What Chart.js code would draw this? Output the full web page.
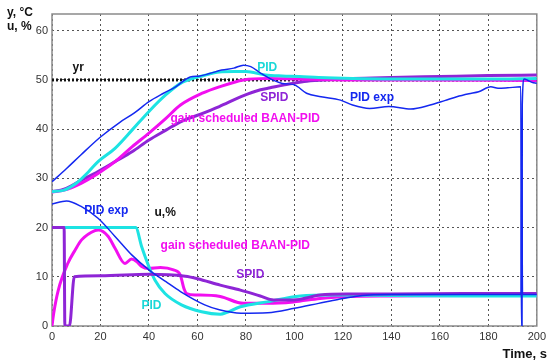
<!DOCTYPE html>
<html>
<head>
<meta charset="utf-8">
<script src="https://cdn.jsdelivr.net/npm/chart.js@4"></script>
<style>
  html, body { margin: 0; padding: 0; background: #fff; }
  canvas { display: block; }
</style>
</head>
<body>
<canvas id="chart" width="550" height="364"></canvas>
<script>
// --- data ---
// temperature y (upper curves)
const pidExpYT = [0, 6, 12, 20, 28, 34, 40, 46, 51, 57, 61, 65, 70, 75, 79, 82, 86, 91, 95, 100, 105, 111, 119, 124, 131, 139, 148, 156, 162, 167, 172, 176, 181, 184, 188, 193.4, 193.6, 193.9, 194.0, 194.8, 196, 198, 200];
const pidExpY  = [29.3, 32, 34.8, 38.4, 41.4, 43.3, 45.6, 47.3, 48.6, 50.6, 50.8, 51.3, 52, 52.4, 53, 52.7, 51.4, 50, 49.3, 49, 47.3, 46.6, 45.9, 44.9, 44.2, 44.6, 44.1, 44.9, 45.8, 46.6, 47.2, 47.6, 48.6, 48.3, 48.4, 48.6, 0, 0, 45, 50.2, 50, 49.5, 49.3];

const pidYT = [0, 5, 10, 15, 19, 26, 33, 40, 47, 53, 58, 62, 69, 75, 80, 88, 95, 102, 110, 124, 140, 160, 180, 200];
const pidY  = [27.3, 27.6, 29, 31.3, 33.4, 36.1, 39.8, 43.6, 47, 49.3, 50.3, 50.8, 51.6, 51.7, 51.7, 51, 50.8, 50.7, 50.5, 50.3, 50.2, 50.2, 50.2, 50.3];

const baanYT = [0, 5, 12, 19, 26, 33, 40, 47, 53, 62, 69, 79, 89, 100, 120, 150, 200];
const baanY  = [27.2, 27.6, 29, 31, 33.4, 36.4, 39.2, 42.2, 44.9, 47.3, 48.6, 50, 50.3, 50.2, 50, 50, 49.9];

const spidYT = [0, 5, 12, 19, 26, 33, 40, 47, 53, 61, 69, 78, 86, 90, 96, 104, 112, 124, 140, 160, 180, 200];
const spidY  = [27.3, 27.8, 29.6, 31.4, 33.4, 35.4, 37.8, 39.8, 41.5, 43, 44.6, 46.6, 48, 48.4, 49, 49.7, 50, 50.3, 50.5, 50.7, 50.9, 51];

const yrT = [0, 200];
const yrV = [50, 50];

// control signal u (lower curves)
const pidExpUT = [0, 6, 12, 19, 26, 33, 40, 47, 53, 63, 69, 78, 89, 100, 110, 118, 125, 131, 140, 160, 180, 193.5, 193.8, 194.1, 194.5, 200];
const pidExpU  = [24.8, 25.4, 24.3, 21.9, 18.2, 14.4, 11.4, 9, 7, 4.3, 3.3, 2.6, 2.7, 3.6, 4.6, 5.4, 6, 6.3, 6.4, 6.4, 6.4, 6.4, 32, 6.4, 6.4, 6.4];

const pidUT = [0, 34.5, 37, 39.7, 42.5, 46.6, 53.4, 61.7, 69.4, 77.7, 88.7, 102.4, 116, 140, 170, 200];
const pidU  = [20, 20, 16.1, 12.4, 9.3, 6.6, 4.3, 2.9, 2.4, 3.9, 4.9, 6.1, 6.3, 6.2, 6.1, 6.1];

const baanUT = [0, 0.7, 2.6, 6.5, 9.5, 12.2, 17.7, 19.1, 23.2, 26, 30.1, 32.8, 34.9, 37, 39.7, 44.7, 50.1, 52.9, 54.5, 55.5, 59, 61.2, 69.4, 79, 88.7, 99.6, 110.6, 121.7, 140, 170, 200];
const baanU  = [0, 2.6, 7.3, 12.7, 15.4, 17.5, 19.4, 19.5, 18.2, 15.8, 12.7, 13.6, 13.1, 12.1, 11.7, 11.9, 11.4, 10.4, 7.5, 6.6, 6.3, 6.3, 6, 4.6, 4.6, 4.9, 5.6, 6, 6.1, 6.2, 6.2];

const spidUT = [0, 5, 5.3, 7.2, 9.2, 20, 40, 55, 60, 69.4, 77.7, 85.9, 91.4, 99.6, 110.6, 121.7, 140, 170, 200];
const spidU  = [20, 20, 0, 0, 10, 10.2, 10.5, 10.1, 9.6, 8.3, 7.3, 6.1, 5.3, 5.3, 6.3, 6.5, 6.5, 6.6, 6.6];

const xTicks = [0, 20, 40, 60, 80, 100, 120, 140, 160, 180, 200];
const yTicks = [0, 10, 20, 30, 40, 50, 60];

// in-plot labels: text, t, value, colour
const labels = [
  ["yr", 10.8, 52.4, "#111"],
  ["PID", 88.8, 52.4, "#1ad8d8"],
  ["SPID", 91.7, 46.3, "#8e25d6"],
  ["PID exp", 132, 46.3, "#1428f0"],
  ["gain scheduled BAAN-PID", 79.7, 42.1, "#f20ff0"],
  ["PID exp", 22.4, 23.4, "#1428f0"],
  ["u,%", 46.7, 23, "#111"],
  ["gain scheduled BAAN-PID", 75.6, 16.3, "#f20ff0"],
  ["SPID", 81.8, 10.4, "#8e25d6"],
  ["PID", 41, 4.1, "#1ad8d8"]
];

const BLUE = "#1428f0", CYAN = "#1de3e3", MAGENTA = "#f20ff0", PURPLE = "#8e25d6";
const pts = (t, v) => t.map((x, i) => ({ x: x, y: v[i] }));

function line(data, color, width, extra) {
  return Object.assign({
    data: data,
    borderColor: color,
    borderWidth: width,
    pointRadius: 0,
    showLine: true,
    fill: false,
    cubicInterpolationMode: "monotone"
  }, extra || {});
}

// frame + texts
const decor = {
  id: "decor",
  beforeDatasetsDraw(chart) {
    const { ctx, chartArea: a } = chart;
    ctx.save();
    ctx.strokeStyle = "#8a8a8a";
    ctx.lineWidth = 1.5;
    ctx.strokeRect(a.left, a.top, a.right - a.left, a.bottom - a.top);
    ctx.restore();
  },
  afterDatasetsDraw(chart) {
    const { ctx, scales } = chart;
    ctx.save();
    ctx.font = "bold 12px 'Liberation Sans', Arial, sans-serif";
    ctx.textAlign = "center";
    ctx.textBaseline = "middle";
    labels.forEach(([txt, t, v, c]) => {
      ctx.fillStyle = c;
      ctx.fillText(txt, scales.x.getPixelForValue(t), scales.y.getPixelForValue(v));
    });
    ctx.fillStyle = "#111";
    ctx.font = "bold 12px 'Liberation Sans', Arial, sans-serif";
    ctx.textAlign = "left";
    ctx.fillText("y, \u00b0C", 7, 13);
    ctx.fillText("u, %", 7, 27);
    ctx.font = "bold 13px 'Liberation Sans', Arial, sans-serif";
    ctx.textAlign = "right";
    ctx.fillText("Time, s", 547, 354);
    ctx.restore();
  }
};

new Chart(document.getElementById("chart"), {
  type: "scatter",
  data: {
    datasets: [
      line(pts(pidExpYT, pidExpY), BLUE, 1.5),
      line(pts(pidExpUT, pidExpU), BLUE, 1.5),
      line(pts(pidYT, pidY), CYAN, 3),
      line(pts(spidUT, spidU), PURPLE, 3),
      line(pts(pidUT, pidU), CYAN, 3),
      line(pts(baanYT, baanY), MAGENTA, 3),
      line(pts(baanUT, baanU), MAGENTA, 3),
      line(pts(spidYT, spidY), PURPLE, 3),
      line(pts(yrT, yrV), "#111", 3, { borderDash: [2, 2], cubicInterpolationMode: "default" })
    ]
  },
  options: {
    responsive: false,
    animation: false,
    layout: { padding: { left: 0, right: 13, top: 14, bottom: 0 } },
    plugins: { legend: { display: false }, tooltip: { enabled: false } },
    scales: {
      x: {
        type: "linear",
        min: 0,
        max: 200,
        afterFit: s => { s.height = 38; },
        afterBuildTicks: s => { s.ticks = xTicks.map(v => ({ value: v })); },
        ticks: { color: "#333", padding: 4, font: { family: "'Liberation Sans', Arial, sans-serif", size: 11 } },
        grid: { color: "#555", lineWidth: 1, drawTicks: false },
        border: { display: false, dash: [2, 3] }
      },
      y: {
        min: 0,
        max: 63.4,
        afterFit: s => { s.width = 52; },
        afterBuildTicks: s => { s.ticks = yTicks.map(v => ({ value: v })); },
        ticks: { color: "#333", padding: 4, font: { family: "'Liberation Sans', Arial, sans-serif", size: 11 } },
        grid: { color: "#555", lineWidth: 1, drawTicks: false },
        border: { display: false, dash: [2, 3] }
      }
    }
  },
  plugins: [decor]
});
</script>
</body>
</html>
